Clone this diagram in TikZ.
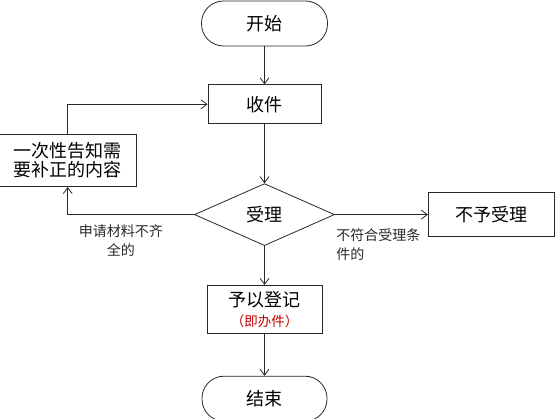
\documentclass[tikz,border=0pt]{standalone}
\usepackage{fontspec}
\newfontfamily\cjk{Noto Sans CJK SC}
\definecolor{LineGray}{RGB}{40, 40, 40}
\definecolor{NoteRed}{RGB}{192, 0, 0}
\usetikzlibrary{arrows.meta, shapes.geometric, positioning}

\begin{document}
\begin{tikzpicture}[
                x=1pt, y=1pt,
                node distance=38pt and 93pt,
                box/.style={rectangle, draw=LineGray, line width=0.8pt,
                            minimum width=113pt, minimum height=39pt,
                            font=\cjk\fontsize{18}{20}\selectfont, align=center, inner sep=2pt},
                term/.style={box, rounded corners=22pt, minimum width=126pt, minimum height=45pt},
                judgebox/.style={diamond, draw=LineGray, line width=0.8pt,
                            minimum width=140pt, minimum height=62pt, inner sep=0pt,
                            font=\cjk\fontsize{18}{20}\selectfont},
                lbl/.style={font=\cjk\fontsize{14}{19}\selectfont, inner sep=1pt},
                arr/.style={-{Straight Barb[length=6pt, width=9pt]}, LineGray, line width=0.8pt}
            ]
                \useasboundingbox (0,0) rectangle (555,-419);

                \node[term] (start) at (264.5,-23.5) {开始};
                \node[box, below=38pt of start] (recv) {收件};
                \node[judgebox, below=59pt of recv] (judge) {受理};
                \node[box, minimum width=126pt, minimum height=44pt, right=93pt of judge] (reject) {不予受理};
                \node[box, minimum width=115pt, minimum height=48pt, below=39pt of judge] (register)
                    {予以登记\\{\color{NoteRed}\fontsize{13.5}{16}\selectfont （即办件）}};
                \node[term, minimum width=125pt, below=42pt of register] (end) {结束};
                \node[box, minimum width=137pt, minimum height=52pt, font=\cjk\fontsize{18}{19}\selectfont,
                      below left=10pt and 71pt of recv] (notify) {一次性告知需\\要补正的内容};

                \draw[arr] (start) -- (recv);
                \draw[arr] (recv) -- (judge);
                \draw[arr] (judge) -- (register);
                \draw[arr] (register) -- (end);
                \draw[arr] (judge) -- node[lbl, anchor=north west, align=left, pos=0, yshift=-13pt]
                    {不符合受理条\\件的} (reject);
                \draw[arr] (judge.west) -| node[lbl, below, pos=0.29, align=center, yshift=-9pt]
                    {申请材料不齐\\全的} (notify.south);
                \draw[arr] (notify.north) |- (recv.west);
            \end{tikzpicture}
\end{document}
